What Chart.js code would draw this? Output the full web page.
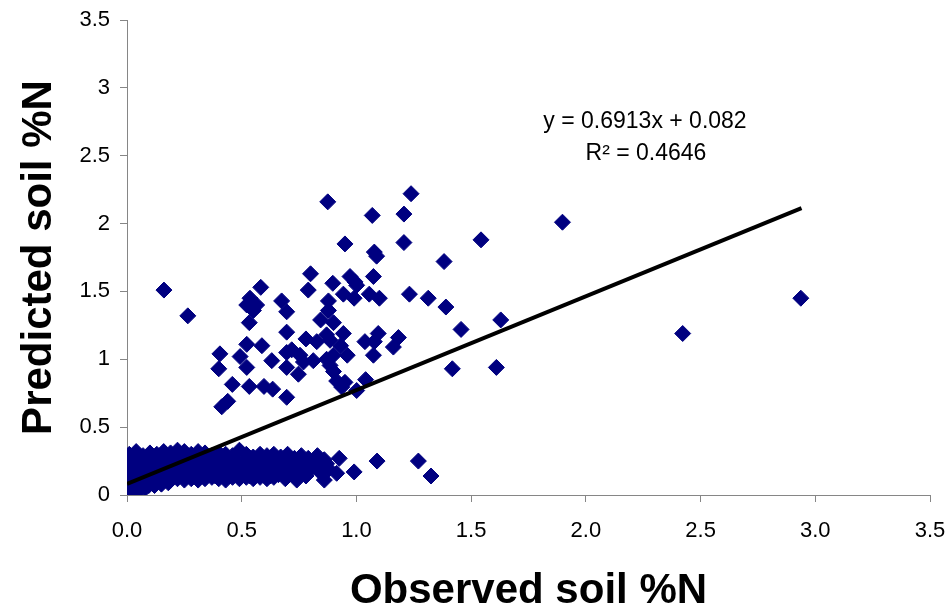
<!DOCTYPE html>
<html>
<head>
<meta charset="utf-8">
<title>Observed vs predicted soil %N</title>
<script src="https://cdn.jsdelivr.net/npm/chart.js@4/dist/chart.umd.min.js"></script>
<style>
  html, body { margin: 0; padding: 0; background: #fff; }
  #wrap { width: 949px; height: 608px; }
</style>
</head>
<body>
<div id="wrap"><canvas id="soilChart" width="949" height="608"></canvas></div>
<script>
// --------------------- Data ---------------------
// [observed, predicted] pairs

// dense band of low values
const lowCluster = [
  [0.01,0.30],[0.04,0.32],[0.07,0.29],[0.10,0.31],[0.13,0.30],[0.16,0.32],[0.19,0.31],[0.22,0.33],
  [0.25,0.32],[0.28,0.30],[0.31,0.32],[0.34,0.31],[0.37,0.29],[0.40,0.31],[0.43,0.30],[0.46,0.29],
  [0.49,0.33],[0.52,0.30],[0.55,0.28],[0.58,0.30],[0.61,0.29],[0.64,0.30],[0.67,0.28],[0.70,0.30],
  [0.73,0.27],[0.76,0.29],[0.79,0.27],[0.83,0.29],[0.86,0.26],
  [0.02,0.26],[0.055,0.25],[0.085,0.27],[0.115,0.25],[0.145,0.26],[0.175,0.24],[0.205,0.27],[0.235,0.25],
  [0.265,0.26],[0.295,0.24],[0.325,0.27],[0.355,0.25],[0.385,0.26],[0.415,0.24],[0.445,0.26],[0.475,0.25],
  [0.505,0.24],[0.535,0.26],[0.565,0.24],[0.595,0.25],[0.625,0.23],[0.655,0.25],[0.685,0.24],[0.715,0.22],
  [0.745,0.25],[0.78,0.23],[0.81,0.24],[0.84,0.22],[0.87,0.23],
  [0.01,0.21],[0.04,0.20],[0.07,0.22],[0.10,0.20],[0.13,0.21],[0.16,0.19],[0.19,0.21],[0.22,0.20],
  [0.25,0.22],[0.28,0.19],[0.31,0.21],[0.34,0.20],[0.37,0.21],[0.40,0.19],[0.43,0.21],[0.46,0.20],
  [0.49,0.19],[0.52,0.21],[0.55,0.20],[0.58,0.19],[0.61,0.21],[0.64,0.19],[0.67,0.20],[0.70,0.18],
  [0.73,0.20],[0.76,0.18],[0.80,0.19],[0.84,0.17],[0.88,0.19],
  [0.02,0.16],[0.055,0.15],[0.085,0.16],[0.115,0.14],[0.145,0.15],[0.175,0.16],[0.205,0.14],[0.235,0.15],
  [0.265,0.16],[0.295,0.14],[0.325,0.15],[0.355,0.16],[0.385,0.14],[0.415,0.15],[0.445,0.14],[0.475,0.16],
  [0.505,0.15],[0.535,0.14],[0.565,0.16],[0.595,0.15],[0.625,0.14],[0.66,0.15],[0.69,0.14],[0.72,0.16],
  [0.75,0.15],[0.78,0.14],
  [0.01,0.11],[0.04,0.10],[0.07,0.12],[0.10,0.11],[0.13,0.10],[0.16,0.12],[0.19,0.11],[0.22,0.12],
  [0.25,0.11],[0.28,0.12],[0.31,0.11],[0.34,0.12],[0.37,0.13],[0.40,0.12],[0.43,0.11],[0.46,0.13],
  [0.49,0.12],[0.52,0.13],[0.55,0.12],[0.58,0.13],[0.61,0.12],[0.64,0.13],[0.69,0.12],[0.74,0.11],
  [0.005,0.06],[0.02,0.04],[0.035,0.07],[0.05,0.03],[0.065,0.06],[0.08,0.05],[0.01,0.02],[0.03,0.015],
  [0.095,0.07],[0.12,0.07],[0.15,0.08],[0.18,0.09]
];

// stragglers to the right of the band
const lowTail = [
  [0.86,0.11],[0.914,0.16],[0.925,0.27],[0.99,0.17],[1.09,0.25],[1.27,0.25],[1.325,0.14]
];

// upper group between 0.6 and 2.3
const upperGroup = [
  [0.161,1.51],[0.265,1.32],[0.875,2.16],[1.238,2.22],[1.069,2.06],[1.207,2.07],[0.95,1.85],[1.207,1.86],
  [1.078,1.79],[1.088,1.76],[1.382,1.72],[0.80,1.63],[1.074,1.61],[0.972,1.61],[0.994,1.57],[1.001,1.545],
  [0.897,1.56],[0.79,1.51],[0.583,1.53],[0.674,1.43],[0.522,1.40],[0.536,1.45],[0.565,1.40],[0.551,1.36],
  [0.696,1.35],[0.878,1.43],[0.878,1.36],[0.943,1.48],[0.99,1.45],[1.056,1.48],[1.10,1.45],[1.231,1.48],
  [1.313,1.45],[1.39,1.385],[0.533,1.27],[0.844,1.29],[0.90,1.27],[0.696,1.20],[0.943,1.19],[0.78,1.15],
  [0.827,1.13],[0.87,1.18],[0.885,1.14],[0.522,1.11],[0.588,1.10],[0.931,1.10],[1.037,1.13],[1.095,1.19],
  [1.078,1.13],[1.183,1.16],[1.161,1.09],[0.405,1.04],[0.40,0.93],[0.493,1.02],[0.522,0.94],[0.631,0.99],
  [0.696,1.05],[0.718,1.07],[0.754,1.03],[0.769,0.98],[0.812,0.99],[0.696,0.94],[0.87,1.00],[0.90,1.03],
  [0.885,0.955],[0.90,0.91],[0.96,1.03],[1.074,1.03],[0.747,0.89],[0.914,0.84],[0.95,0.83],[0.936,0.795],
  [1.001,0.77],[1.04,0.85],[0.459,0.815],[0.533,0.80],[0.597,0.80],[0.635,0.78],[0.696,0.72],[0.413,0.65],
  [0.439,0.69]
];

// far points
const farPoints = [
  [1.898,2.01],[1.543,1.88],[1.456,1.22],[1.629,1.29],[1.418,0.93],[1.61,0.94],[2.422,1.19],[2.937,1.45]
];

// linear trend, end points
const trendObs = [0.0, 2.94];
const trendPred = [0.082, 2.114];
const trendLabel = ["y = 0.6913x + 0.082", "R\u00B2 = 0.4646"];

const xTickLabels = ["0.0", "0.5", "1.0", "1.5", "2.0", "2.5", "3.0", "3.5"];
const yTickLabels = ["0", "0.5", "1", "1.5", "2", "2.5", "3", "3.5"];


// --------------------- Chart ---------------------
Chart.defaults.font.family = "'Liberation Sans', Arial, sans-serif";
Chart.defaults.color = "#000";

const toPoints = (list) => list.map(([x, y]) => ({ x, y }));
const allPoints = toPoints(lowCluster.concat(lowTail, upperGroup, farPoints));
const trendPoints = trendObs.map((x, i) => ({ x, y: trendPred[i] }));

// equation text, top right of the line
const equationText = {
  id: "equationText",
  afterDatasetsDraw(chart) {
    const ctx = chart.ctx;
    ctx.save();
    ctx.fillStyle = "#000";
    ctx.font = "23px 'Liberation Sans', Arial, sans-serif";
    ctx.textAlign = "center";
    ctx.textBaseline = "middle";
    ctx.fillText(trendLabel[0], 645, 122);
    ctx.fillText(trendLabel[1], 646, 154);
    ctx.restore();
  }
};

new Chart(document.getElementById("soilChart"), {
  type: "scatter",
  data: {
    datasets: [
      {
        label: "Linear trend",
        data: trendPoints,
        showLine: true,
        borderColor: "#000",
        borderWidth: 4,
        pointRadius: 0,
        order: 0
      },
      {
        label: "Soil %N",
        data: allPoints,
        pointStyle: "rectRot",
        pointRadius: 8,
        pointBackgroundColor: "#000080",
        pointBorderColor: "#000080",
        pointBorderWidth: 1,
        order: 1
      }
    ]
  },
  options: {
    responsive: false,
    animation: false,
    layout: { padding: { left: 0, top: 20, right: 19, bottom: 0 } },
    plugins: { legend: { display: false }, tooltip: { enabled: false } },
    scales: {
      x: {
        min: 0,
        max: 3.5,
        afterFit: (scale) => {
          scale.height = 113;
          scale.paddingLeft = 0;
          scale.paddingRight = 0;
        },
        ticks: {
          stepSize: 0.5,
          padding: 16,
          font: { size: 22 },
          callback: (v, i) => xTickLabels[i]
        },
        grid: { drawOnChartArea: false, tickLength: 7, color: "#868686" },
        border: { color: "#868686", width: 1 },
        title: {
          display: true,
          text: "Observed soil %N",
          font: { size: 42, weight: "bold", lineHeight: 0.81 },
          padding: { top: 0, bottom: 0 }
        }
      },
      y: {
        min: 0,
        max: 3.5,
        afterFit: (scale) => {
          scale.width = 127;
          scale.paddingTop = 0;
          scale.paddingBottom = 0;
        },
        ticks: {
          stepSize: 0.5,
          padding: 10,
          font: { size: 22 },
          callback: (v, i) => yTickLabels[i]
        },
        grid: { drawOnChartArea: false, tickLength: 7, color: "#868686" },
        border: { color: "#868686", width: 1 },
        title: {
          display: true,
          text: "Predicted soil %N",
          font: { size: 42, weight: "bold", lineHeight: 1 },
          padding: { top: 18, bottom: 0 }
        }
      }
    }
  },
  plugins: [equationText]
});
</script>
</body>
</html>
